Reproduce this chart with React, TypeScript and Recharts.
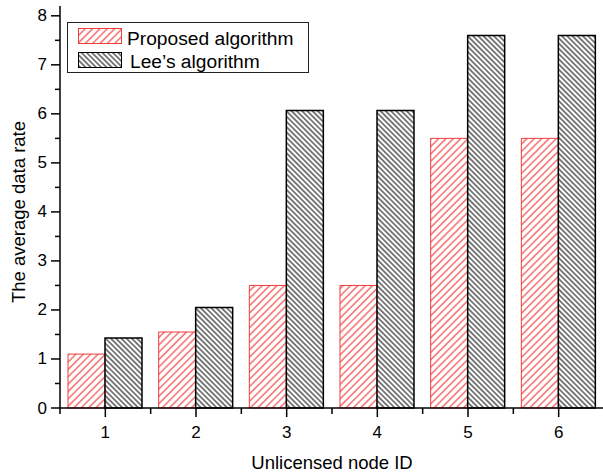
import { BarChart, Bar, XAxis, YAxis } from "recharts";

const nodeIds = ["1", "2", "3", "4", "5", "6"];
const proposedRate = [1.1, 1.55, 2.5, 2.5, 5.5, 5.5];
const leeRate = [1.43, 2.05, 6.07, 6.07, 7.6, 7.6];
const yTicks = [0, 0.5, 1, 1.5, 2, 2.5, 3, 3.5, 4, 4.5, 5, 5.5, 6, 6.5, 7, 7.5, 8];

const data = nodeIds.map((id, i) => ({
  id,
  proposed: proposedRate[i],
  lee: leeRate[i],
}));

const FONT = '"Liberation Sans", Arial, sans-serif';
const RED = "#f23a3a";

function YTick(props: any) {
  const { x, y, payload } = props;
  const major = Number.isInteger(payload.value);
  return (
    <g>
      <line x1={x - (major ? 9 : 5)} x2={x} y1={y} y2={y} stroke="#000" strokeWidth={1.5} />
      {major && (
        <text x={x - 13} y={y} textAnchor="end" dominantBaseline="central" fontSize={17} fill="#000" fontFamily={FONT}>
          {payload.value}
        </text>
      )}
    </g>
  );
}

function XTick(props: any) {
  const { x, y, payload, index } = props;
  const half = payload.offset || 45.3;
  return (
    <g>
      <line x1={x} x2={x} y1={y} y2={y + 9} stroke="#000" strokeWidth={1.5} />
      <line x1={x - half} x2={x - half} y1={y} y2={y + 6} stroke="#000" strokeWidth={1.5} />
      {index === nodeIds.length - 1 && (
        <line x1={x + half} x2={x + half} y1={y} y2={y + 6} stroke="#000" strokeWidth={1.5} />
      )}
      <text x={x} y={y + 24} textAnchor="middle" dominantBaseline="central" fontSize={17} fill="#000" fontFamily={FONT}>
        {payload.value}
      </text>
    </g>
  );
}

function LegendBox() {
  return (
    <svg width={603} height={100} style={{ position: "absolute", left: 0, top: 0, pointerEvents: "none" }}>
      <defs>
        <pattern id="hatchRed" patternUnits="userSpaceOnUse" width={5.2} height={5.2} patternTransform="rotate(45)">
          <rect width={5.2} height={5.2} fill="#fff" />
          <line x1={2.6} y1={0} x2={2.6} y2={5.2} stroke={RED} strokeWidth={1.1} />
        </pattern>
        <pattern id="hatchBlack" patternUnits="userSpaceOnUse" width={3.7} height={3.7} patternTransform="rotate(-45)">
          <rect width={3.7} height={3.7} fill="#fff" />
          <line x1={1.85} y1={0} x2={1.85} y2={3.7} stroke="#000" strokeWidth={1} />
        </pattern>
      </defs>
      <rect x={67.5} y={22.5} width={241} height={50} fill="#fff" stroke="#222" strokeWidth={1} />
      <rect x={78.5} y={28.5} width={43} height={15} fill="url(#hatchRed)" stroke={RED} strokeWidth={1} />
      <text x={127} y={45} fontSize={19.2} fill="#000" fontFamily={FONT}>
        Proposed algorithm
      </text>
      <rect x={78.5} y={52.5} width={43} height={15} fill="url(#hatchBlack)" stroke="#000" strokeWidth={1} />
      <text x={130} y={68} fontSize={19.2} fill="#000" fontFamily={FONT}>
        Lee’s algorithm
      </text>
    </svg>
  );
}

export default function App() {
  return (
    <div
      style={{
        position: "absolute",
        left: 0,
        top: 0,
        width: 603,
        height: 475,
        overflow: "hidden",
        background: "#fff",
        fontFamily: FONT,
      }}
    >
      <BarChart
        width={606}
        height={475}
        data={data}
        margin={{ top: 6, right: 2, left: 0, bottom: 0 }}
        barSize={37}
        barGap={0}
      >
        <XAxis
          dataKey="id"
          height={67}
          interval={0}
          tickSize={0}
          tickMargin={0}
          tickLine={false}
          axisLine={{ stroke: "#000", strokeWidth: 1.5 }}
          tick={<XTick />}
          label={{
            value: "Unlicensed node ID",
            position: "insideBottom",
            offset: 6,
            fontSize: 18.5,
            fill: "#000",
            fontFamily: FONT,
          }}
        />
        <YAxis
          width={60}
          domain={[0, 8.2]}
          ticks={yTicks}
          interval={0}
          tickSize={0}
          tickMargin={0}
          tickLine={false}
          axisLine={{ stroke: "#000", strokeWidth: 1.5 }}
          tick={<YTick />}
          label={{
            value: "The average data rate",
            angle: -90,
            position: "insideLeft",
            offset: 18,
            dy: 5,
            fontSize: 18.5,
            fill: "#000",
            fontFamily: FONT,
            style: { textAnchor: "middle" },
          }}
        />
        <Bar dataKey="proposed" fill="url(#hatchRed)" stroke={RED} strokeWidth={1} isAnimationActive={false} />
        <Bar dataKey="lee" fill="url(#hatchBlack)" stroke="#000" strokeWidth={1.5} isAnimationActive={false} />
      </BarChart>
      <LegendBox />
    </div>
  );
}
